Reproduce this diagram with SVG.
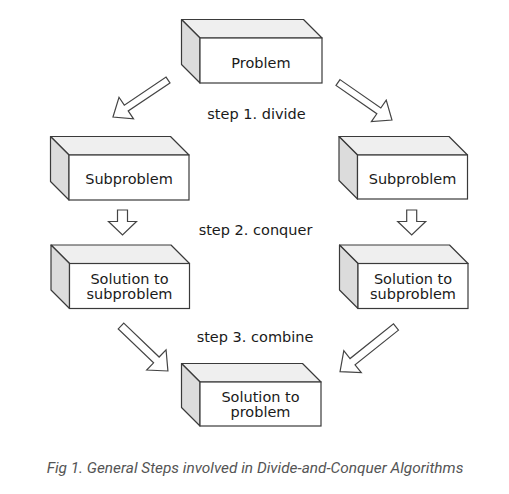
<svg xmlns="http://www.w3.org/2000/svg" width="509" height="494" viewBox="0 0 509 494">
<style>
.front{fill:#ffffff;stroke:#3a3a3a;stroke-width:1.2}
.top{fill:#efefef;stroke:#3a3a3a;stroke-width:1.2;stroke-linejoin:round}
.side{fill:#dcdcdc;stroke:#3a3a3a;stroke-width:1.2;stroke-linejoin:round}
.lbl{font-family:"DejaVu Sans",sans-serif;font-size:14.5px;fill:#1a1a1a;text-anchor:middle}
.step{font-family:"DejaVu Sans",sans-serif;font-size:14.5px;fill:#1a1a1a;text-anchor:middle}
.arr{fill:#ffffff;stroke:#444;stroke-width:1.2;stroke-linejoin:miter}
.cap{font-family:Roboto,"Liberation Sans",sans-serif;font-style:italic;font-size:15.4px;fill:#555;text-anchor:middle}
</style>
<rect width="509" height="494" fill="#ffffff"/>
<g id="problem">
<polygon class="top" points="181.5,19.5 303.5,19.5 322,38 200,38"/>
<polygon class="side" points="181.5,19.5 200,38 200,83 181.5,64.5"/>
<rect class="front" x="200" y="38" width="122" height="45"/>
<text class="lbl" x="261" y="67.5">Problem</text>
</g>
<g id="sub-left">
<polygon class="top" points="50.5,136.5 170.5,136.5 189,155 69,155"/>
<polygon class="side" points="50.5,136.5 69,155 69,200 50.5,181.5"/>
<rect class="front" x="69" y="155" width="120" height="45"/>
<text class="lbl" x="129" y="183.5">Subproblem</text>
</g>
<g id="sub-right">
<polygon class="top" points="339,136.5 449,136.5 467.5,155 357.5,155"/>
<polygon class="side" points="339,136.5 357.5,155 357.5,199 339,180.5"/>
<rect class="front" x="357.5" y="155" width="110" height="44"/>
<text class="lbl" x="412.5" y="183.5">Subproblem</text>
</g>
<g id="sol-left">
<polygon class="top" points="51,245 171,245 189.5,263.5 69.5,263.5"/>
<polygon class="side" points="51,245 69.5,263.5 69.5,308.5 51,290"/>
<rect class="front" x="69.5" y="263.5" width="120" height="45"/>
<text class="lbl" x="129.5" y="283.5">Solution to</text>
<text class="lbl" x="129.5" y="299">subproblem</text>
</g>
<g id="sol-right">
<polygon class="top" points="339.5,245 449.5,245 468,263.5 358,263.5"/>
<polygon class="side" points="339.5,245 358,263.5 358,308.5 339.5,290"/>
<rect class="front" x="358" y="263.5" width="110" height="45"/>
<text class="lbl" x="413" y="283.5">Solution to</text>
<text class="lbl" x="413" y="299">subproblem</text>
</g>
<g id="sol-problem">
<polygon class="top" points="181.5,363.5 302.5,363.5 321,382 200,382"/>
<polygon class="side" points="181.5,363.5 200,382 200,426 181.5,407.5"/>
<rect class="front" x="200" y="382" width="121" height="44"/>
<text class="lbl" x="260.5" y="401.5">Solution to</text>
<text class="lbl" x="260.5" y="417">problem</text>
</g>
<g id="connectors">
<polygon class="arr" transform="translate(168,80) rotate(146.1)" points="0,-3.5 50.3,-3.5 50.3,-13 66.3,0 50.3,13 50.3,3.5 0,3.5"/>
<polygon class="arr" transform="translate(338,82.5) rotate(34.8)" points="0,-3.5 49.7,-3.5 49.7,-13 65.7,0 49.7,13 49.7,3.5 0,3.5"/>
<polygon class="arr" points="117.5,210 127.5,210 127.5,221.5 136.5,221.5 122.5,235 108.5,221.5 117.5,221.5"/>
<polygon class="arr" points="406.7,210 416.7,210 416.7,221.5 425.7,221.5 411.7,235 397.7,221.5 406.7,221.5"/>
<polygon class="arr" transform="translate(121,326) rotate(43.8)" points="0,-4 49,-4 49,-14 65,0 49,14 49,4 0,4"/>
<polygon class="arr" transform="translate(396,327) rotate(141.4)" points="0,-4 55.6,-4 55.6,-14 71.6,0 55.6,14 55.6,4 0,4"/>
</g>
<text class="step" x="256.5" y="118.5">step 1. divide</text>
<text class="step" x="255.5" y="234.5">step 2. conquer</text>
<text class="step" x="255" y="341.5">step 3. combine</text>
<text class="cap" x="255" y="473">Fig 1. General Steps involved in Divide-and-Conquer Algorithms</text>
</svg>
